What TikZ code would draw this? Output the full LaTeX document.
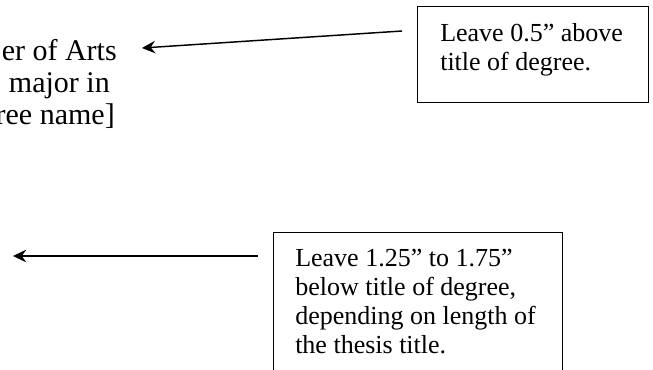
\documentclass[tikz,border=0pt]{standalone}
\usepackage{fontspec}
\setmainfont{Liberation Serif}
\usetikzlibrary{arrows.meta}
\tikzset{
  px/.style={x=0.75pt,y=-0.75pt},
  notebox/.style={draw=black,line width=0.9pt,fill=none,inner sep=0pt,anchor=north west},
  notetext/.style={inner sep=0pt,anchor=base west,align=left,font=\fontsize{19.5pt}{21.75pt}\selectfont},
  degtext/.style={inner sep=0pt,anchor=base east,font=\fontsize{22.5pt}{24pt}\selectfont},
  pointer/.style={line width=1.1pt,-{Stealth[length=10pt,width=9.5pt,inset=3.5pt]}}
}
\begin{document}
\begin{tikzpicture}[px]
\useasboundingbox (0,0) rectangle (653,369);
\clip (0,0) rectangle (653,369);
\fill[white] (0,0) rectangle (653,369);
% degree title (clipped at left edge)
\node[degtext] (deg1) at (117,60) {er of Arts};
\node[degtext] (deg2) at (110,92) {major in};
\node[degtext] (deg3) at (115,124) {ree name]};
% top note box
\node[notebox,minimum width=173.25pt,minimum height=72pt] (topbox) at (417,6) {};
\node[notetext] (toptext) at (440,70) {Leave 0.5” above\\title of degree.};
% bottom note box
\node[notebox,minimum width=216.75pt,minimum height=112.5pt] (botbox) at (273,232) {};
\node[notetext] (bottext) at (295,353) {Leave 1.25” to 1.75”\\below title of degree,\\depending on length of\\the thesis title.};
% connectors
\coordinate (t1) at (402,31);
\coordinate (t2) at (142,48);
\coordinate (b1) at (258,256);
\coordinate (b2) at (13,256);
\draw[pointer] (t1) -- (t2);
\draw[pointer] (b1) -- (b2);
\end{tikzpicture}
\end{document}
